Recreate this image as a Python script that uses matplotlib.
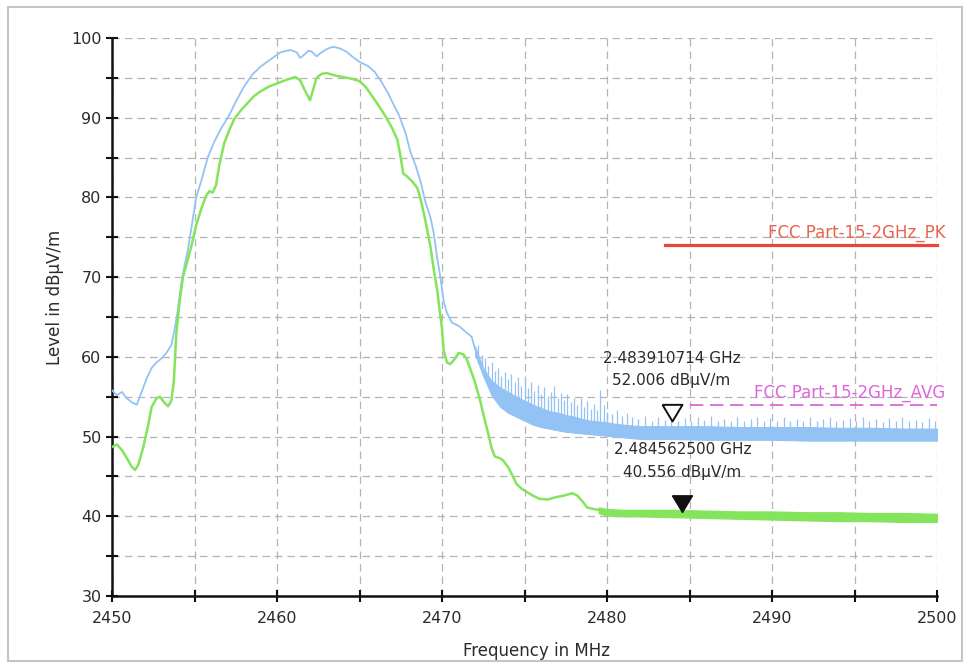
import matplotlib
matplotlib.use('Agg')
import matplotlib.pyplot as plt
import matplotlib.patches as patches
from matplotlib.ticker import MultipleLocator
import numpy as np

# peak trace (blue), smooth part
pk_freq = [2450.0, 2450.3, 2450.6, 2450.9, 2451.2, 2451.5, 2451.8, 2452.1,
           2452.4, 2452.7, 2453.0, 2453.3, 2453.6, 2453.8, 2454.0, 2454.2,
           2454.4, 2454.6, 2454.8, 2455.1, 2455.4, 2455.8, 2456.2, 2456.6,
           2457.1, 2457.5, 2458.0, 2458.5, 2459.0, 2459.4, 2459.8, 2460.2,
           2460.8, 2461.2, 2461.4, 2461.6, 2461.9, 2462.1, 2462.4, 2462.7,
           2463.1, 2463.4, 2463.8, 2464.2, 2464.6, 2465.0, 2465.5, 2465.9,
           2466.3, 2466.7, 2467.1, 2467.4, 2467.8, 2468.1, 2468.4, 2468.7,
           2469.0, 2469.3, 2469.5, 2469.7, 2469.9, 2470.1, 2470.3, 2470.6,
           2471.0, 2471.4, 2471.8, 2472.0]
pk_level = [55.8, 55.2, 55.6, 54.8, 54.3, 54.0, 55.6, 57.3,
            58.6, 59.3, 59.8, 60.5, 61.5, 63.5, 66.0, 69.2,
            71.5, 73.4, 76.0, 80.0, 82.0, 85.0, 87.0, 88.6,
            90.3, 92.0, 93.9, 95.4, 96.4, 97.0, 97.6, 98.2,
            98.5, 98.2, 97.5, 97.8, 98.4, 98.3, 97.7, 98.2,
            98.7, 98.9, 98.7, 98.3, 97.6, 97.0, 96.5, 95.8,
            94.6, 93.2, 91.5, 90.3, 88.0, 85.6, 84.0, 82.0,
            79.4, 77.5, 75.5, 72.5, 70.0, 67.0, 65.5, 64.3,
            63.9, 63.2, 62.5, 61.0]

# peak trace noise band (dense part) and single spikes above it
pkn_freq = [2472.0, 2472.5, 2473.0, 2473.5, 2474.0, 2474.5, 2475.0, 2475.5,
            2476.0, 2476.5, 2477.0, 2477.5, 2478.0, 2478.5, 2479.0, 2479.5,
            2480.0, 2480.5, 2481.0, 2481.5, 2482.0, 2484.0, 2486.0, 2488.0,
            2490.0, 2492.0, 2494.0, 2496.0, 2498.0, 2500.0]
pkn_hi = [61.3, 58.6, 57.0, 56.2, 55.6, 55.0, 54.5, 54.0,
          53.6, 53.2, 53.0, 52.7, 52.5, 52.2, 52.0, 51.9,
          51.8, 51.6, 51.5, 51.4, 51.3, 51.3, 51.3, 51.2,
          51.2, 51.2, 51.1, 51.1, 51.0, 51.0]
pkn_lo = [60.3, 57.6, 55.2, 53.8, 53.0, 52.5, 52.0, 51.5,
          51.2, 51.0, 50.8, 50.6, 50.5, 50.4, 50.3, 50.2,
          50.1, 50.0, 49.9, 49.8, 49.7, 49.7, 49.6, 49.6,
          49.6, 49.5, 49.5, 49.5, 49.5, 49.5]
spike_freq = [2472.2, 2472.4, 2472.6, 2472.8, 2473.0, 2473.2, 2473.4, 2473.6,
              2473.8, 2474.0, 2474.2, 2474.4, 2474.6, 2474.8, 2475.0, 2475.2,
              2475.4, 2475.6, 2475.8, 2476.0, 2476.2, 2476.4, 2476.6, 2476.8,
              2477.0, 2477.2, 2477.4, 2477.6, 2477.8, 2478.0, 2478.2, 2478.4,
              2478.6, 2478.8, 2479.0, 2479.2, 2479.4, 2479.6, 2479.8, 2480.0,
              2480.3, 2480.6, 2480.9, 2481.2, 2481.5, 2481.9, 2482.3, 2482.7,
              2483.1, 2483.5, 2483.9, 2484.3, 2484.7, 2485.1, 2485.5, 2485.9,
              2486.3, 2486.7, 2487.1, 2487.5, 2487.9, 2488.3, 2488.7, 2489.1,
              2489.5, 2489.9, 2490.3, 2490.7, 2491.1, 2491.5, 2491.9, 2492.3,
              2492.7, 2493.1, 2493.5, 2493.9, 2494.3, 2494.7, 2495.1, 2495.5,
              2495.9, 2496.3, 2496.7, 2497.1, 2497.5, 2497.9, 2498.3, 2498.7,
              2499.1, 2499.5, 2499.9]
spike_level = [61.5, 60.2, 59.8, 58.9, 59.4, 58.2, 58.6, 57.6,
               58.1, 57.2, 57.9, 56.8, 57.5, 56.4, 57.3, 56.1,
               56.9, 55.7, 56.5, 55.4, 56.2, 55.1, 55.6, 56.4,
               54.9, 55.5, 54.6, 55.3, 54.3, 54.9, 54.0, 54.8,
               53.7, 54.4, 53.5, 54.1, 53.3, 55.8, 53.9, 53.1,
               52.8, 53.3, 52.6, 53.0, 52.4, 52.2, 52.6, 52.0,
               52.4, 52.1, 52.5, 52.0, 52.3, 51.9, 52.4, 52.1,
               52.6, 51.9, 52.2, 52.0, 52.5, 51.9, 52.2, 52.4,
               51.9, 52.3, 52.0, 52.4, 51.9, 52.2, 52.0, 52.5,
               51.9, 52.2, 52.4, 51.9, 52.1, 52.3, 51.9, 52.5,
               52.0, 52.2, 51.8, 52.3, 52.0, 52.4, 51.9, 52.1,
               51.8, 52.3, 51.9]

# average trace (green)
av_freq = [2450.0, 2450.3, 2450.6, 2450.9, 2451.2, 2451.4, 2451.6, 2451.9,
           2452.2, 2452.4, 2452.7, 2452.9, 2453.2, 2453.4, 2453.6, 2453.75,
           2453.9, 2454.1, 2454.3, 2454.5, 2454.8, 2455.1, 2455.4, 2455.7,
           2455.9, 2456.1, 2456.3, 2456.5, 2456.8, 2457.1, 2457.4, 2457.8,
           2458.2, 2458.6, 2459.0, 2459.5, 2460.0, 2460.5, 2461.1, 2461.4,
           2461.7, 2462.0, 2462.2, 2462.4, 2462.7, 2463.0, 2463.5, 2464.0,
           2464.5, 2465.0, 2465.4, 2465.8, 2466.2, 2466.6, 2467.0, 2467.3,
           2467.5, 2467.65, 2467.9, 2468.2, 2468.5, 2468.7, 2468.9, 2469.1,
           2469.3, 2469.5, 2469.7, 2469.85, 2470.0, 2470.1, 2470.3, 2470.5,
           2470.8, 2471.0, 2471.3, 2471.5, 2471.8, 2472.0, 2472.3, 2472.6,
           2472.8, 2473.0, 2473.2, 2473.5, 2473.7, 2474.0, 2474.3, 2474.5,
           2474.8, 2475.1, 2475.5, 2475.9, 2476.4, 2476.9, 2477.4, 2477.9,
           2478.2, 2478.5, 2478.8, 2479.2, 2479.5]
av_level = [48.7, 49.0, 48.3, 47.3, 46.2, 45.8, 46.5, 48.7,
            51.5, 53.7, 54.8, 55.0, 54.2, 53.8, 54.5, 57.0,
            63.0, 67.0, 70.0, 71.5, 73.8, 76.5, 78.5, 80.2,
            80.8, 80.6, 81.5, 84.0, 86.8, 88.4, 89.8, 90.9,
            91.8, 92.7, 93.3, 93.9, 94.3, 94.7, 95.1, 94.7,
            93.4, 92.2, 93.6, 95.0, 95.5, 95.6, 95.3, 95.1,
            94.9, 94.6, 93.8, 92.6, 91.4, 90.1, 88.6, 87.2,
            85.0, 83.0, 82.6, 82.0, 81.2, 79.8, 78.0, 76.0,
            73.8, 71.0, 68.5, 66.0, 63.5, 60.8, 59.3, 59.1,
            59.8, 60.5, 60.3, 59.7, 58.0, 56.8, 54.6, 52.0,
            50.4, 48.6, 47.5, 47.3, 47.0, 46.2, 45.0, 44.1,
            43.5, 43.1, 42.6, 42.2, 42.1, 42.4, 42.6, 42.9,
            42.6, 41.9, 41.1, 40.9, 40.8]

# average trace noise floor
avn_freq = [2479.5, 2480.0, 2481.0, 2482.0, 2484.0, 2486.0, 2488.0, 2490.0,
            2492.0, 2494.0, 2496.0, 2498.0, 2500.0]
avn_hi = [41.1, 40.9, 40.8, 40.8, 40.8, 40.7, 40.6, 40.6, 40.5, 40.5, 40.4, 40.4, 40.3]
avn_lo = [40.4, 40.1, 40.0, 40.0, 39.9, 39.8, 39.7, 39.6, 39.5, 39.4, 39.4, 39.3, 39.3]

# limit lines
pk_limit = 74.0
av_limit = 54.0
pk_limit_start = 2483.5
av_limit_start = 2485.0

# markers
marker_freq = [2483.910714, 2484.5625]
marker_level = [52.006, 40.556]

blue = '#93c3f5'
green = '#84e45c'
textcol = '#2b2b2b'

fig = plt.figure(figsize=(9.7, 6.64), dpi=100)
fig.patch.set_facecolor('white')
fig.patches.append(patches.Rectangle((8 / 970, 3 / 664), 954 / 970, 654 / 664,
                                     transform=fig.transFigure, fill=False,
                                     edgecolor='#c4c4c4', linewidth=1.5))
ax = fig.add_axes([112 / 970, 68 / 664, 825 / 970, 558 / 664])

ax.set_xlim(2450, 2500)
ax.set_ylim(30, 100)
ax.xaxis.set_major_locator(MultipleLocator(10))
ax.xaxis.set_minor_locator(MultipleLocator(5))
ax.yaxis.set_major_locator(MultipleLocator(10))
ax.yaxis.set_minor_locator(MultipleLocator(5))
ax.grid(which='both', color='#b4b4b4', linestyle=(0, (6, 4)), linewidth=0.9)
ax.set_axisbelow(True)
for side in ['top', 'right']:
    ax.spines[side].set_visible(False)
for side in ['left', 'bottom']:
    ax.spines[side].set_linewidth(1.8)
    ax.spines[side].set_color('#111111')
ax.tick_params(which='both', direction='inout', length=9, width=1.5,
               color='#111111', labelsize=11.5, labelcolor=textcol)
ax.tick_params(axis='x', pad=6)
ax.tick_params(axis='y', pad=3)

# peak trace
ax.plot(pk_freq, pk_level, color=blue, linewidth=1.3, zorder=3)
ax.fill_between(pkn_freq, pkn_lo, pkn_hi, color=blue, linewidth=0.8,
                edgecolor=blue, zorder=3)
ax.vlines(spike_freq, np.interp(spike_freq, pkn_freq, pkn_lo), spike_level,
          color=blue, linewidth=0.9, zorder=3)

# average trace
ax.plot(av_freq, av_level, color=green, linewidth=1.8, zorder=4)
ax.fill_between(avn_freq, avn_lo, avn_hi, color=green, linewidth=1.0,
                edgecolor=green, zorder=4)

# limit lines
ax.plot([pk_limit_start, 2500], [pk_limit, pk_limit], color='#e8463a',
        linewidth=2.3, zorder=5, clip_on=False)
ax.plot([av_limit_start, 2500], [av_limit, av_limit], color='#dc5ad8',
        linewidth=1.2, linestyle=(0, (8, 4)), zorder=5, clip_on=False)
ax.text(2500.5, pk_limit + 1.5, 'FCC Part-15-2GHz_PK', color='#e8644f',
        fontsize=12, ha='right', va='center', zorder=6)
ax.text(2500.5, av_limit + 1.45, 'FCC Part-15-2GHz_AVG', color='#dd66da',
        fontsize=12, ha='right', va='center', zorder=6)

# markers (tip of the triangle on the measured point)
tri = [(-0.6, 1.0), (0.6, 1.0), (0.0, 0.0), (-0.6, 1.0)]
ax.plot(marker_freq[0], marker_level[0], marker=tri, markersize=24,
        markerfacecolor='white', markeredgecolor='#111111',
        markeredgewidth=1.4, linestyle='none', zorder=7)
ax.plot(marker_freq[1], marker_level[1], marker=tri, markersize=24,
        markerfacecolor='#111111', markeredgecolor='#111111',
        linestyle='none', zorder=7)
for f, v in zip(marker_freq, marker_level):
    ax.annotate('{:.9f} GHz'.format(f / 1000), (f, v), xytext=(0, 45),
                textcoords='offset points', ha='center', va='center',
                fontsize=11, color=textcol, zorder=8)
    ax.annotate('{:.3f} dB\u00b5V/m'.format(v), (f, v), xytext=(0, 28.5),
                textcoords='offset points', ha='center', va='center',
                fontsize=11, color=textcol, zorder=8)

ax.set_xlabel('Frequency in MHz', fontsize=12, color=textcol)
ax.set_ylabel('Level in dB\u00b5V/m', fontsize=12, color=textcol)
ax.xaxis.set_label_coords(0.514, -0.083)
ax.yaxis.set_label_coords(-0.058, 0.536)

fig.savefig('out.png', dpi=100, facecolor='white')
plt.close()
